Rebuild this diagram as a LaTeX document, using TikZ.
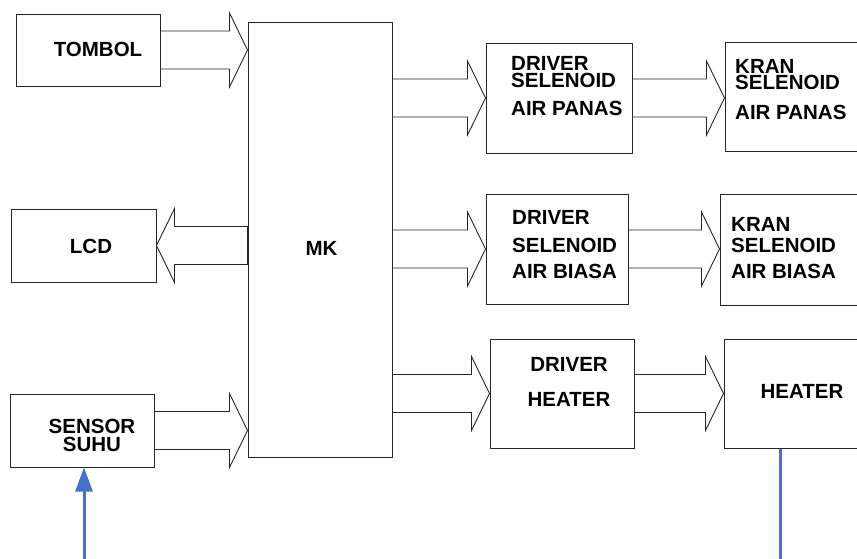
\documentclass[tikz,border=0pt]{standalone}
\usepackage{fontspec}
\setmainfont{Liberation Sans}
\usetikzlibrary{arrows.meta,calc}

\definecolor{biru}{HTML}{4472C4}

% panah blok: #1 pangkal, #2 ujung, #3 node acuan tinggi, #4 arah (1 kanan, -1 kiri)
\newcommand{\blokpanah}[4]{%
  \draw[panahblok] ($(#1 |- #3)+(0,-19)$) -- ($(#2 |- #3)+(-18*#4,-19)$)
    -- ($(#2 |- #3)+(-18*#4,-37)$) -- (#2 |- #3) -- ($(#2 |- #3)+(-18*#4,37)$)
    -- ($(#2 |- #3)+(-18*#4,19)$) -- ($(#1 |- #3)+(0,19)$) -- cycle;}

\begin{document}
\begin{tikzpicture}[
  x=1pt,
  y=-1pt,
  kotak/.style={draw=black!85, line width=1pt, inner sep=0pt},
  teks/.style={font=\bfseries\fontsize{20.5}{#1}\selectfont, inner sep=0pt},
  teks/.default=17,
  panahblok/.style={draw=black!85, line width=0.9pt, line join=miter},
  umpanbalik/.style={biru, line width=3pt, -{Triangle[length=24pt,width=17pt]}}
]
\useasboundingbox (0,0) rectangle (857,558);

% blok kiri
\node[kotak, minimum width=144pt, minimum height=72pt] (tombol) at (88,50) {};
\node[kotak, minimum width=145pt, minimum height=73pt] (lcd) at (83.5,245.5) {};
\node[kotak, minimum width=144pt, minimum height=73pt] (sensor) at (82,430.5) {};
\node[kotak, minimum width=144pt, minimum height=435pt] (mk) at (320,239.5) {};

% blok kanan
\node[kotak, minimum width=146pt, minimum height=110pt] (drvpanas) at (559,98) {};
\node[kotak, minimum width=175pt, minimum height=109pt] (kranpanas) at (812.5,96.5) {};
\node[kotak, minimum width=142pt, minimum height=110pt] (drvbiasa) at (557,249) {};
\node[kotak, minimum width=180pt, minimum height=111pt] (kranbiasa) at (810,249.5) {};
\node[kotak, minimum width=144pt, minimum height=109pt] (drvheater) at (562,393.5) {};
\node[kotak, minimum width=176pt, minimum height=109pt] (heater) at (812,393.5) {};

% tulisan
\node[teks] (tombol-t) at (98,49) {TOMBOL};
\node[teks] (lcd-t) at (91,246.5) {LCD};
\node[teks=18, align=center, anchor=north] (sensor-t) at (92,419) {SENSOR\\SUHU};
\node[teks] (mk-t) at (321.5,248.5) {MK};
\node[teks=17, align=left, anchor=north west] (drvpanas-t) at (511,56) {DRIVER\\SELENOID\\[11.5pt]AIR PANAS};
\node[teks=16.5, align=left, anchor=north west] (kranpanas-t) at (735,59) {KRAN\\SELENOID\\[13.5pt]AIR PANAS};
\node[teks=26, align=left, anchor=north west] (drvbiasa-t) at (512,210) {DRIVER\\[2pt]SELENOID\\AIR BIASA};
\node[teks=21, align=left, anchor=north west] (kranbiasa-t) at (731,217) {KRAN\\SELENOID\\[5pt]AIR BIASA};
\node[teks=35, align=center, anchor=north] (drvheater-t) at (569,357) {DRIVER\\HEATER};
\node[teks] (heater-t) at (802,391.5) {HEATER};

% panah blok
\blokpanah{tombol.east}{mk.west}{tombol}{1}
\blokpanah{mk.west}{lcd.east}{lcd}{-1}
\blokpanah{sensor.east}{mk.west}{sensor}{1}
\blokpanah{mk.east}{drvpanas.west}{drvpanas}{1}
\blokpanah{drvpanas.east}{kranpanas.west}{drvpanas}{1}
\blokpanah{mk.east}{drvbiasa.west}{drvbiasa}{1}
\blokpanah{drvbiasa.east}{kranbiasa.west}{drvbiasa}{1}
\blokpanah{mk.east}{drvheater.west}{drvheater}{1}
\blokpanah{drvheater.east}{heater.west}{drvheater}{1}

% umpan balik heater ke sensor
\coordinate (bawahkanan) at (780,560);
\coordinate (bawahkiri) at (84,560);
\draw[umpanbalik] (heater.south -| bawahkanan) -- (bawahkanan) -- (bawahkiri) -- (sensor.south -| bawahkiri);
\end{tikzpicture}
\end{document}
